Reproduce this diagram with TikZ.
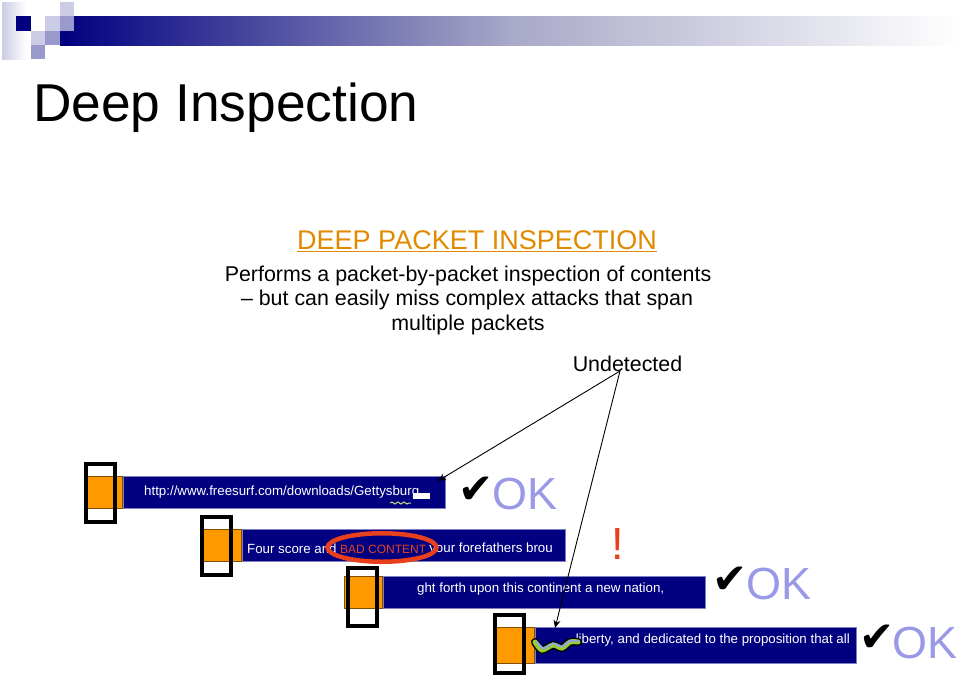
\documentclass[tikz,border=0pt]{standalone}
\usepackage{fontspec}
\setmainfont{Liberation Sans}
\newfontfamily\checkfont{DejaVu Sans}
\usetikzlibrary{arrows.meta,positioning,calc,decorations.pathmorphing,shapes.geometric}
\definecolor{pktNavy}{HTML}{000080}
\definecolor{pktEdge}{HTML}{8080C0}
\definecolor{pktOrange}{HTML}{FF9900}
\definecolor{pktBrown}{HTML}{805000}
\definecolor{pktRed}{HTML}{E8401C}
\definecolor{pktPale}{HTML}{9999E8}
\definecolor{pktHead}{HTML}{CCCCE6}
\definecolor{pktMid}{HTML}{9999CC}
\definecolor{pktTitle}{HTML}{E08A00}
\definecolor{pktGreen}{HTML}{99CC33}
\definecolor{pktBlue}{HTML}{8FA8E0}
\definecolor{pktFade}{HTML}{A8A8C8}

\begin{document}
\begin{tikzpicture}[x=1pt,y=-1pt]
\tikzset{pktbar/.style={rectangle, draw=pktEdge, line width=0.8pt, fill=pktNavy, anchor=north west, inner sep=0pt, minimum height=32pt},
 pkthead/.style={rectangle, draw=pktBrown, line width=0.6pt, fill=pktOrange, anchor=north east, inner sep=0pt, minimum height=32pt},
 pktframe/.style={rectangle, draw=black, line width=3.6pt, anchor=north west, inner sep=0pt, minimum width=29.4pt, minimum height=58pt},
 pkttxt/.style={text=white, font=\fontsize{13.3}{15}\selectfont, inner sep=0pt},
 body/.style={font=\fontsize{21.4}{25}\selectfont, inner sep=0pt},
 oktxt/.style={text=pktPale, font=\fontsize{45}{50}\selectfont, inner sep=0pt, anchor=west},
 tick/.style={font=\checkfont\fontsize{42}{44}\selectfont, inner sep=0pt},
 arr/.style={-{Stealth[length=8pt,width=7pt]}, draw=black, line width=0.9pt}}
\useasboundingbox (0,0) rectangle (960,678);

% header
\node[rectangle, draw=none, anchor=north west, inner sep=0pt, minimum width=900pt, minimum height=29pt, left color=pktNavy, right color=white, middle color=pktFade] (hdrbar) at (60,16) {};
\node[rectangle, draw=none, anchor=north west, inner sep=0pt, minimum width=24pt, minimum height=57pt, left color=pktHead, right color=white] (hdrtall) at (2,2) {};
\fill[pktNavy] (16,16) rectangle (31,31);
\fill[pktHead] (60,2) rectangle (74,16);
\fill[pktHead] (45,16) rectangle (60,31);
\fill[pktMid] (60,16) rectangle (74,31);
\fill[pktHead] (31,31) rectangle (45,45);
\fill[pktMid] (45,31) rectangle (60,45);
\fill[pktMid] (31,45) rectangle (45,59);

\node[font=\fontsize{53.3}{56}\selectfont, inner sep=0pt, anchor=west] (title) at (33,108) {Deep Inspection};

\node[body, text=pktTitle, font=\fontsize{27}{30}\selectfont] (subhead) at (477,241) {\underline{DEEP PACKET INSPECTION}};
\node[body] (line1) at (468,275.5) {Performs a packet-by-packet inspection of contents};
\node[body] (line2) at (467,300) {-- but can easily miss complex attacks that span};
\node[body] (line3) at (468,324.5) {multiple packets};
\node[body] (undet) at (627.5,364) {Undetected};
\coordinate (undtip) at (620,371);

% packets
\node[pktbar, minimum width=322pt] (bara) at (123,476) {};
\node[pkthead, minimum width=35pt, left=0pt of bara.north west, anchor=north east] (heada) {};
\node[pktframe] (framea) at (84,462) {};
\node[pkttxt, right=21pt of bara.west] (txta) {http://www.freesurf.com/downloads/Gettysburg};
\fill[white] (413,493) rectangle (430,499);
\draw[pktGreen!60!white, line width=1pt, decorate, decoration={snake, amplitude=1pt, segment length=6pt}] (390,503) -- (411,503);
\node[tick, anchor=west] (ticka) at (458,490) {✔};
\node[oktxt] (oka) at (492,494) {OK};

\node[pktbar, minimum width=323pt] (barb) at (242,529) {};
\node[pkthead, minimum width=39pt, left=0pt of barb.north west, anchor=north east] (headb) {};
\node[pktframe] (frameb) at (200,515) {};
\node[pkttxt, anchor=west] (txtb) at (247,549) {Four score and};
\node[pkttxt, text=pktRed, font=\fontsize{12}{14}\selectfont, anchor=west] (badtxt) at (340,549) {BAD CONTENT};
\node[pkttxt, anchor=east] (txtc) at (553,549) {your forefathers brou};
\node[ellipse, draw=pktRed, line width=4.5pt, minimum width=109pt, minimum height=28.5pt, inner sep=0pt] (badring) at (382,547.5) {};

\node[oktxt, text=pktRed, anchor=center] (bang) at (618,544) {!};

\node[pktbar, minimum width=322pt] (barc) at (383,576) {};
\node[pkthead, minimum width=38pt, left=0pt of barc.north west, anchor=north east] (headc) {};
\node[pktframe] (framec) at (346,566) {};
\node[pkttxt, anchor=west] (txtd) at (417,589.5) {ght forth upon this continent a new nation,};
\node[tick, anchor=west] (tickc) at (712,580) {✔};
\node[oktxt] (okc) at (746.5,584) {OK};

\node[pktbar, minimum width=321pt, minimum height=36pt] (bard) at (535,627) {};
\node[pkthead, minimum width=40pt, minimum height=36pt, left=0pt of bard.north west, anchor=north east] (headd) {};
\node[pktframe] (framed) at (493,613) {};
\node[pkttxt, anchor=east] (txte) at (850,640.5) {liberty, and dedicated to the proposition that all};
\draw[black, line width=8pt, line cap=round] plot[smooth] coordinates {(535,642) (542,650) (553,645) (562,648) (570,642) (578,642)};
\draw[pktGreen, line width=5pt, line cap=round] plot[smooth] coordinates {(535,642) (542,650) (553,645) (562,648) (570,642) (578,642)};
\draw[pktBlue, line width=2pt, line cap=round] plot[smooth] coordinates {(537,642) (544,648.5) (553,643.5) (562,646.5) (570,641) (578,641)};
\node[tick, anchor=west] (tickd) at (859,638) {✔};
\node[oktxt] (okd) at (892,643) {OK};

\draw[arr] (undtip) -- ($(bara.north east)+(-8,5)$);
\draw[arr] (undtip) -- ($(bard.north west)+(20,1)$);
\end{tikzpicture}
\end{document}
